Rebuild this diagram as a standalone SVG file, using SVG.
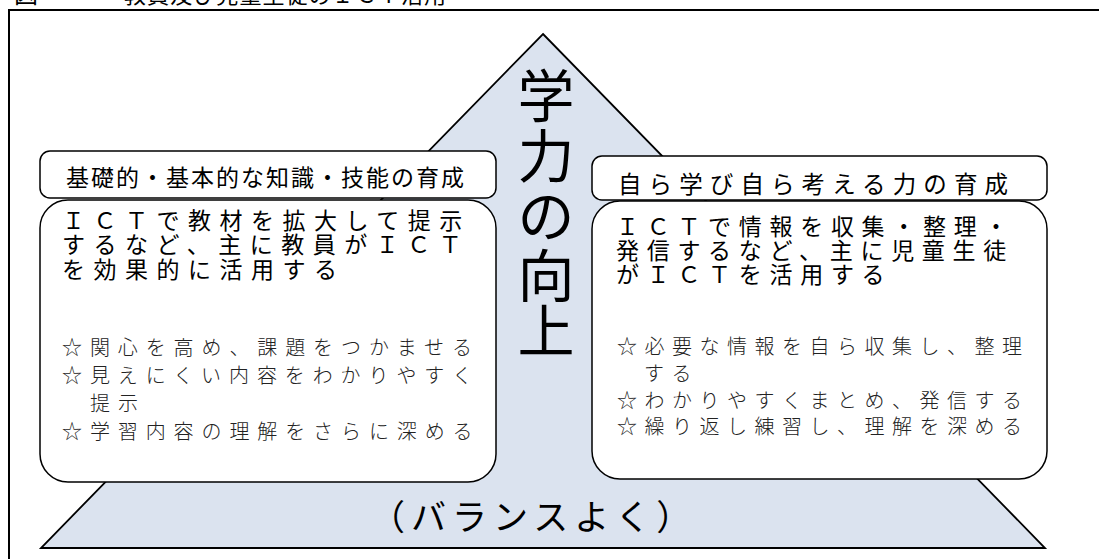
<svg xmlns="http://www.w3.org/2000/svg" width="1099" height="559" viewBox="0 0 1099 559">
<style>
.t{font-family:"Noto Sans CJK JP","Noto Sans",sans-serif;fill:#000}
.b{font-family:"Noto Sans CJK JP","Noto Sans",sans-serif;fill:#222;font-weight:300}
.box{fill:#fff;stroke:#000;stroke-width:1.5}
</style>
<rect width="1099" height="559" fill="#fff"/>
<g id="title">
<text class="t" x="14" y="3" font-size="24">図</text>
<text class="t" x="124" y="3" font-size="22" textLength="322" lengthAdjust="spacing">教員及び児童生徒のＩＣＴ活用</text>
</g>
<rect id="frame" x="9" y="10" width="1100" height="560" fill="none" stroke="#000" stroke-width="2"/>
<g id="pyramid">
<polygon points="543,34 1045,548 41,548" fill="#dbe3ef" stroke="#000" stroke-width="1.8"/>
</g>
<g id="center-text" class="t" font-size="57" text-anchor="middle">
<text x="546" y="117">学</text>
<text x="546" y="177">力</text>
<text x="546" y="237">の</text>
<text x="546" y="297">向</text>
<text x="546" y="352">上</text>
</g>
<g id="balance">
<text class="t" x="370" y="530" font-size="35" letter-spacing="6">（バランスよく）</text>
</g>
<g id="left-header">
<rect class="box" x="40" y="151" width="456" height="47" rx="10"/>
<text class="t" x="66" y="186" font-size="23" letter-spacing="2">基礎的・基本的な知識・技能の育成</text>
</g>
<g id="left-main">
<rect class="box" x="40" y="200" width="456" height="282" rx="28"/>
<text class="t" font-size="23" letter-spacing="8.5">
<tspan x="62" y="229">ＩＣＴで教材を拡大して提示</tspan>
<tspan x="62" y="253">するなど、主に教員がＩＣＴ</tspan>
<tspan x="62" y="278">を効果的に活用する</tspan>
</text>
<text class="b" font-size="20" letter-spacing="7.9">
<tspan x="62" y="355">☆関心を高め、課題をつかませる</tspan>
<tspan x="90" y="383" dx="-28">☆見えにくい内容をわかりやすく</tspan>
<tspan x="90" y="411">提示</tspan>
<tspan x="62" y="439">☆学習内容の理解をさらに深める</tspan>
</text>
</g>
<g id="right-header">
<rect class="box" x="592" y="156" width="455" height="44" rx="10"/>
<text class="t" x="618" y="193" font-size="23.5" letter-spacing="7.1">自ら学び自ら考える力の育成</text>
</g>
<g id="right-main">
<rect class="box" x="592" y="201" width="455" height="278" rx="28"/>
<text class="t" font-size="23" letter-spacing="7.7">
<tspan x="616" y="235">ＩＣＴで情報を収集・整理・</tspan>
<tspan x="616" y="259">発信するなど、主に児童生徒</tspan>
<tspan x="616" y="283">がＩＣＴを活用する</tspan>
</text>
<text class="b" font-size="20" letter-spacing="7.5">
<tspan x="617" y="354">☆必要な情報を自ら収集し、整理</tspan>
<tspan x="644" y="381">する</tspan>
<tspan x="617" y="408">☆わかりやすくまとめ、発信する</tspan>
<tspan x="617" y="434">☆繰り返し練習し、理解を深める</tspan>
</text>
</g>
</svg>
